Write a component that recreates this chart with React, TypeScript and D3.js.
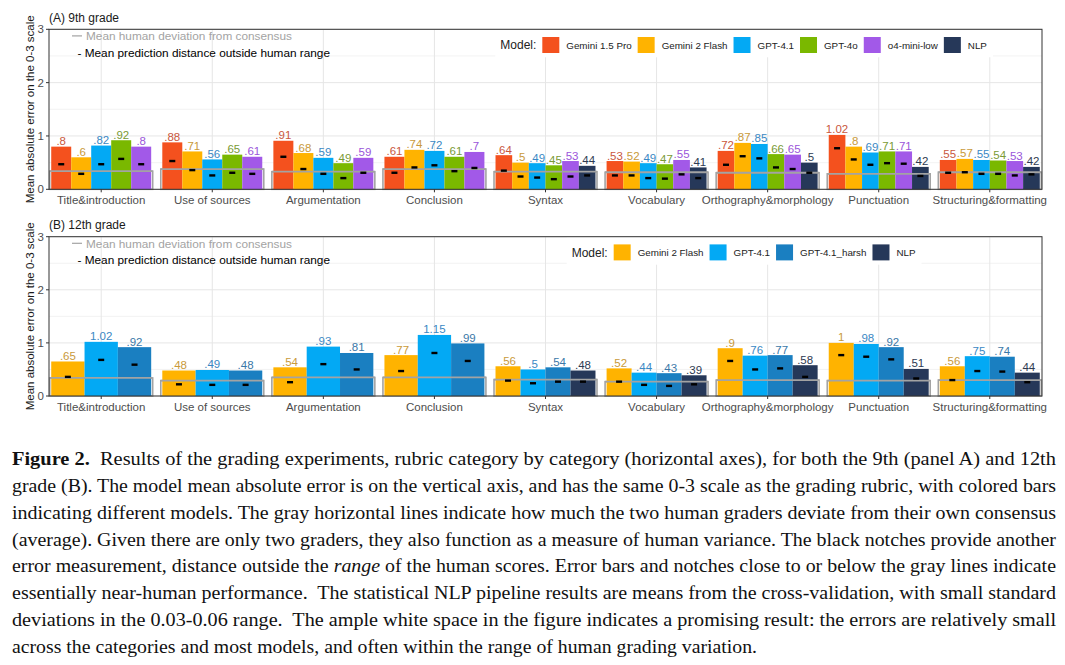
import * as d3 from "d3";

const categories = [
  "Title&introduction",
  "Use of sources",
  "Argumentation",
  "Conclusion",
  "Syntax",
  "Vocabulary",
  "Orthography&morphology",
  "Punctuation",
  "Structuring&formatting",
];

// panel A (9th grade)
const modelsA = ["Gemini 1.5 Pro", "Gemini 2 Flash", "GPT-4.1", "GPT-4o", "o4-mini-low", "NLP"];
const gemini15A = [0.8, 0.88, 0.91, 0.61, 0.64, 0.53, 0.72, 1.02, 0.55];
const gemini2A = [0.6, 0.71, 0.68, 0.74, 0.5, 0.52, 0.87, 0.8, 0.57];
const gpt41A = [0.82, 0.56, 0.59, 0.72, 0.49, 0.49, 0.85, 0.69, 0.55];
const gpt4oA = [0.92, 0.65, 0.49, 0.61, 0.45, 0.47, 0.66, 0.71, 0.54];
const o4miniA = [0.8, 0.61, 0.59, 0.7, 0.53, 0.55, 0.65, 0.71, 0.53];
const nlpA = [null, null, null, null, 0.44, 0.41, 0.5, 0.42, 0.42];
const gemini15NotchA = [0.47, 0.53, 0.61, 0.31, 0.35, 0.26, 0.46, 0.77, 0.31];
const gemini2NotchA = [0.29, 0.36, 0.38, 0.41, 0.24, 0.26, 0.62, 0.56, 0.32];
const gpt41NotchA = [0.47, 0.26, 0.29, 0.45, 0.22, 0.21, 0.58, 0.46, 0.29];
const gpt4oNotchA = [0.57, 0.31, 0.21, 0.34, 0.19, 0.2, 0.41, 0.49, 0.29];
const o4miniNotchA = [0.47, 0.29, 0.31, 0.4, 0.24, 0.28, 0.38, 0.48, 0.26];
const nlpNotchA = [null, null, null, null, 0.26, 0.21, 0.31, 0.25, 0.28];
const humanA = [0.34, 0.38, 0.33, 0.38, 0.33, 0.32, 0.31, 0.29, 0.32];

// panel B (12th grade)
const modelsB = ["Gemini 2 Flash", "GPT-4.1", "GPT-4.1_harsh", "NLP"];
const gemini2B = [0.65, 0.48, 0.54, 0.77, 0.56, 0.52, 0.9, 1.0, 0.56];
const gpt41B = [1.02, 0.49, 0.93, 1.15, 0.5, 0.44, 0.76, 0.98, 0.75];
const harshB = [0.92, 0.48, 0.81, 0.99, 0.54, 0.43, 0.77, 0.92, 0.74];
const nlpB = [null, null, null, null, 0.48, 0.39, 0.58, 0.51, 0.44];
const gemini2NotchB = [0.36, 0.22, 0.26, 0.47, 0.29, 0.27, 0.66, 0.77, 0.3];
const gpt41NotchB = [0.68, 0.21, 0.6, 0.81, 0.24, 0.21, 0.5, 0.74, 0.47];
const harshNotchB = [0.59, 0.21, 0.5, 0.66, 0.27, 0.19, 0.52, 0.69, 0.46];
const nlpNotchB = [null, null, null, null, 0.27, 0.22, 0.36, 0.33, 0.26];
const humanB = [0.34, 0.29, 0.35, 0.35, 0.31, 0.27, 0.3, 0.29, 0.3];

const barColor: Record<string, string> = {
  "Gemini 1.5 Pro": "#F4511E",
  "Gemini 2 Flash": "#FFB300",
  "GPT-4.1": "#03A9F4",
  "GPT-4o": "#7AB800",
  "o4-mini-low": "#A259E8",
  "GPT-4.1_harsh": "#1A7FC1",
  NLP: "#263859",
};
const labelColor: Record<string, string> = {
  "Gemini 1.5 Pro": "#C9573D",
  "Gemini 2 Flash": "#C99A3A",
  "GPT-4.1": "#3A88C4",
  "GPT-4o": "#7A9A35",
  "o4-mini-low": "#9A55DA",
  "GPT-4.1_harsh": "#3A78A8",
  NLP: "#2E3A52",
};

const captionLines = [
  "Results of the grading experiments, rubric category by category (horizontal axes), for both the 9th (panel A) and 12th",
  "grade (B). The model mean absolute error is on the vertical axis, and has the same 0-3 scale as the grading rubric, with colored bars",
  "indicating different models. The gray horizontal lines indicate how much the two human graders deviate from their own consensus",
  "(average). Given there are only two graders, they also function as a measure of human variance. The black notches provide another",
  "error measurement, distance outside the |range| of the human scores. Error bars and notches close to or below the gray lines indicate",
  "essentially near-human performance.  The statistical NLP pipeline results are means from the cross-validation, with small standard",
  "deviations in the 0.03-0.06 range.  The ample white space in the figure indicates a promising result: the errors are relatively small",
  "across the categories and most models, and often within the range of human grading variation.",
];

const SANS = "'Liberation Sans', Arial, sans-serif";
const SERIF = "'Liberation Serif', 'Times New Roman', serif";

function fmt(v: number) {
  return String(+v.toFixed(2)).replace(/^0\./, ".");
}

let ctx: CanvasRenderingContext2D | null = null;
function textWidth(s: string, size: number) {
  if (!ctx) ctx = document.createElement("canvas").getContext("2d");
  if (!ctx) return s.length * size * 0.5;
  ctx.font = `${size}px 'Liberation Sans'`;
  return ctx.measureText(s).width;
}

type PanelProps = {
  top: number;
  bottom: number;
  title: string;
  models: string[];
  values: (number | null)[][];
  notches: (number | null)[][];
  human: number[];
};

function Panel({ top, bottom, title, models, values, notches, human }: PanelProps) {
  const left = 49;
  const right = 1042;
  const x = d3
    .scaleBand()
    .domain(categories)
    .range([left, right])
    .paddingInner(0.1)
    .paddingOuter(0.02);
  const y = d3.scaleLinear().domain([0, 3]).range([bottom, top]);
  const bw = x.bandwidth();

  // legend layout, centred at 70% of the panel width
  const legendSize = 9.8;
  const modelW = textWidth("Model:", 12);
  const items = models.map((m) => ({ m, w: textWidth(m, legendSize) }));
  const totalW = 5 + modelW + 6 + d3.sum(items, (d) => 17 + 7 + d.w + 6);
  const legX0 = left + 0.7 * (right - left) - totalW / 2;
  let cursor = legX0 + 5 + modelW + 6;
  const legendItems = items.map((d) => {
    const pos = { ...d, x: cursor };
    cursor += 17 + 7 + d.w + 6;
    return pos;
  });
  const legY = top + 15.7;

  const groups = categories.map((c, ci) => {
    const present = models.filter((_, mi) => values[mi][ci] != null);
    const sub = d3
      .scaleBand()
      .domain(present)
      .range([x(c)!, x(c)! + bw]);
    return { c, ci, present, sub };
  });

  return (
    <g>
      {/* grid */}
      {d3.range(0.5, 3, 1).map((t) => (
        <line key={"mn" + t} x1={left} x2={right} y1={y(t)} y2={y(t)} stroke="#F0F0F0" strokeWidth={0.8} />
      ))}
      {y.ticks(3).map((t) => (
        <line key={"mj" + t} x1={left} x2={right} y1={y(t)} y2={y(t)} stroke="#E6E6E6" strokeWidth={1} />
      ))}
      {categories.map((c) => (
        <line
          key={"vg" + c}
          x1={x(c)! + bw / 2}
          x2={x(c)! + bw / 2}
          y1={top}
          y2={bottom}
          stroke="#E6E6E6"
          strokeWidth={1}
        />
      ))}

      {/* legend background */}
      <rect x={legX0} y={top + 0.5} width={totalW} height={27.5} fill="#fff" />

      {/* human deviation boxes (behind) */}
      {groups.map((g) => (
        <rect
          key={"hb" + g.c}
          x={x(g.c)! - 1.5}
          y={y(human[g.ci])}
          width={bw + 3}
          height={y(0) - y(human[g.ci])}
          fill="none"
          stroke="#A3A3A3"
          strokeWidth={1.6}
        />
      ))}

      {/* bars */}
      {groups.map((g) =>
        g.present.map((m) => {
          const v = values[models.indexOf(m)][g.ci] as number;
          return (
            <rect
              key={"b" + g.c + m}
              x={g.sub(m)}
              y={y(v)}
              width={g.sub.bandwidth()}
              height={y(0) - y(v)}
              fill={barColor[m]}
            />
          );
        })
      )}

      {/* human deviation line on top */}
      {groups.map((g) => (
        <line
          key={"hl" + g.c}
          x1={x(g.c)! - 1.5}
          x2={x(g.c)! + bw + 1.5}
          y1={y(human[g.ci])}
          y2={y(human[g.ci])}
          stroke="#A3A3A3"
          strokeWidth={1.8}
        />
      ))}

      {/* notches and labels */}
      {groups.map((g) =>
        g.present.map((m) => {
          const mi = models.indexOf(m);
          const v = values[mi][g.ci] as number;
          const n = notches[mi][g.ci] as number;
          const cx = g.sub(m)! + g.sub.bandwidth() / 2;
          return (
            <g key={"n" + g.c + m}>
              <rect x={cx - 3} y={y(n) - 1.2} width={6} height={2.4} fill="#000" />
              <text
                x={cx}
                y={y(v) - 1.5}
                textAnchor="middle"
                fontFamily={SANS}
                fontSize={11.5}
                fill={labelColor[m]}
              >
                {fmt(v)}
              </text>
            </g>
          );
        })
      )}

      {/* border and axes */}
      <rect x={left} y={top} width={right - left} height={bottom - top} fill="none" stroke="#333" strokeWidth={1} />
      {y.ticks(3).map((t) => (
        <g key={"yt" + t}>
          <line x1={left - 3} x2={left} y1={y(t)} y2={y(t)} stroke="#333" />
          <text
            x={left - 5}
            y={y(t) + 4}
            textAnchor="end"
            fontFamily={SANS}
            fontSize={11.5}
            fill="#4D4D4D"
          >
            {t}
          </text>
        </g>
      ))}
      {categories.map((c) => (
        <g key={"xt" + c}>
          <line x1={x(c)! + bw / 2} x2={x(c)! + bw / 2} y1={bottom} y2={bottom + 3} stroke="#333" />
          <text
            x={x(c)! + bw / 2}
            y={bottom + 15}
            textAnchor="middle"
            fontFamily={SANS}
            fontSize={11.5}
            fill="#4D4D4D"
          >
            {c}
          </text>
        </g>
      ))}
      <text
        transform={`translate(33.5,${(top + bottom) / 2}) rotate(-90)`}
        textAnchor="middle"
        fontFamily={SANS}
        fontSize={11.5}
        fill="#1A1A1A"
      >
        Mean absolute error on the 0-3 scale
      </text>
      <text x={left} y={top - 7.3} fontFamily={SANS} fontSize={12} fill="#1A1A1A">
        {title}
      </text>

      {/* annotations */}
      <line x1={72} x2={82} y1={top + 6.6} y2={top + 6.6} stroke="#A3A3A3" strokeWidth={1.2} />
      <text x={86} y={top + 10.8} fontFamily={SANS} fontSize={11.8} fill="#A3A3A3">
        Mean human deviation from consensus
      </text>
      <text x={77.5} y={top + 27.5} fontFamily={SANS} fontSize={11.8} fill="#000">
        - Mean prediction distance outside human range
      </text>

      {/* legend */}
      <text x={legX0 + 5} y={legY + 4.3} fontFamily={SANS} fontSize={12} fill="#222">
        Model:
      </text>
      {legendItems.map((d) => (
        <g key={"lg" + d.m}>
          <rect x={d.x} y={legY - 8} width={17} height={16} fill={barColor[d.m]} />
          <text x={d.x + 24} y={legY + 3.5} fontFamily={SANS} fontSize={legendSize} fill="#222">
            {d.m}
          </text>
        </g>
      ))}
    </g>
  );
}

function Caption() {
  const x0 = 12;
  const fullW = 1044;
  const base = 465;
  const step = 26.85;
  return (
    <g fontFamily={SERIF} fontSize={18} fill="#111">
      {captionLines.map((line, i) => {
        const last = i === captionLines.length - 1;
        const parts = line.split("|");
        return (
          <text
            key={i}
            x={x0}
            y={base + i * step}
            textLength={last ? 745 : fullW}
            lengthAdjust="spacingAndGlyphs"
            xmlSpace="preserve"
          >
            {i === 0 && <tspan fontWeight="bold">Figure 2.  </tspan>}
            {parts.map((p, k) =>
              k % 2 === 1 ? (
                <tspan key={k} fontStyle="italic">
                  {p}
                </tspan>
              ) : (
                <tspan key={k}>{p}</tspan>
              )
            )}
          </text>
        );
      })}
    </g>
  );
}

export default function App() {
  return (
    <svg
      width={1065}
      height={665}
      style={{ position: "absolute", left: 0, top: 0, background: "#fff", display: "block" }}
    >
      <rect width={1065} height={665} fill="#fff" />
      <Panel
        top={29.3}
        bottom={189.3}
        title="(A) 9th grade"
        models={modelsA}
        values={[gemini15A, gemini2A, gpt41A, gpt4oA, o4miniA, nlpA]}
        notches={[gemini15NotchA, gemini2NotchA, gpt41NotchA, gpt4oNotchA, o4miniNotchA, nlpNotchA]}
        human={humanA}
      />
      <Panel
        top={236.7}
        bottom={396}
        title="(B) 12th grade"
        models={modelsB}
        values={[gemini2B, gpt41B, harshB, nlpB]}
        notches={[gemini2NotchB, gpt41NotchB, harshNotchB, nlpNotchB]}
        human={humanB}
      />
      <Caption />
    </svg>
  );
}
